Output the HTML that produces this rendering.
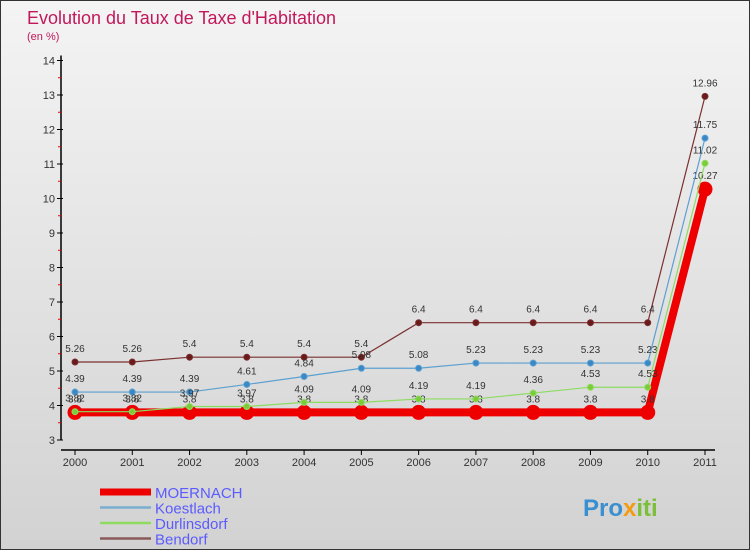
<!DOCTYPE html>
<html><head><meta charset="utf-8"><style>
body{margin:0}
#c{width:750px;height:550px;position:relative;font-family:"Liberation Sans","DejaVu Sans",sans-serif}
</style></head><body>
<div id="c">
<svg id="s" width="750" height="550" xmlns="http://www.w3.org/2000/svg" font-family="Liberation Sans, DejaVu Sans, sans-serif">
<defs><linearGradient id="bg" x1="0" y1="0" x2="0" y2="1"><stop offset="0" stop-color="#f4f4f4"/><stop offset="1" stop-color="#d2d2d2"/></linearGradient></defs>
<rect x="0.5" y="0.5" width="749" height="549" fill="url(#bg)" stroke="#333"/>
<text x="27" y="24" font-size="18" fill="#c2185b">Evolution du Taux de Taxe d'Habitation</text>
<text x="27" y="40" font-size="11" fill="#c2185b">(en %)</text>
<g id="axes"></g><g id="series"></g><g id="legend"></g>
<text x="583" y="516" font-size="24" font-weight="bold" fill="#3a8fd0">Pro<tspan fill="#f39c12">x</tspan><tspan fill="#7cbf3a">iti</tspan></text>
</svg>
</div>
<script>
const years=["2000","2001","2002","2003","2004","2005","2006","2007","2008","2009","2010","2011"];
const yTicks=[3,4,5,6,7,8,9,10,11,12,13,14];
const moernach=[3.8,3.8,3.8,3.8,3.8,3.8,3.8,3.8,3.8,3.8,3.8,10.27];
const koestlach=[4.39,4.39,4.39,4.61,4.84,5.08,5.08,5.23,5.23,5.23,5.23,11.75];
const durlinsdorf=[3.82,3.82,3.97,3.97,4.09,4.09,4.19,4.19,4.36,4.53,4.53,11.02];
const bendorf=[5.26,5.26,5.4,5.4,5.4,5.4,6.4,6.4,6.4,6.4,6.4,12.96];
const NS="http://www.w3.org/2000/svg";
const X=i=>75+i*(630/11);
const Y=v=>440-(v-3)*34.5;
function mk(tag,attrs,parent,txt){const e=document.createElementNS(NS,tag);for(const k in attrs)e.setAttribute(k,attrs[k]);if(txt!==undefined)e.textContent=txt;parent.appendChild(e);return e;}
const ax=document.getElementById('axes');
let e=mk('line',{x1:61,y1:Y(14)-5,x2:61,y2:Y(3),stroke:'#000','stroke-width':1.5},ax);


e=mk('line',{x1:61,y1:450,x2:715,y2:450,stroke:'#000','stroke-width':1.5},ax);


yTicks.forEach(v=>{
 mk('line',{x1:57,y1:Y(v),x2:63,y2:Y(v),stroke:'#000'},ax);
 if(v<14) mk('line',{x1:58,y1:Y(v+0.5),x2:61,y2:Y(v+0.5),stroke:'#e00'},ax);
 const t=mk('text',{x:55,y:Y(v)+4,'text-anchor':'end','font-size':11,fill:'#333'},ax,String(v));
 
 
});
years.forEach((y,i)=>{
 mk('line',{x1:X(i),y1:450,x2:X(i),y2:455,stroke:'#000'},ax);
 const t=mk('text',{x:X(i),y:466,'text-anchor':'middle','font-size':11,fill:'#333'},ax,y);
 
 
});
const sg=document.getElementById('series');
function series(data,color,w,r,name,labels,dot){
 const g=mk('g',{},sg);
 
 
 const p=mk('polyline',{points:data.map((v,i)=>X(i)+','+Y(v)).join(' '),fill:'none',stroke:color,'stroke-width':w},g);
 
 
 data.forEach((v,i)=>{
  const c=mk('circle',{cx:X(i),cy:Y(v),r:r,fill:dot,stroke:color,'stroke-width':1},g);
  
  
  if(labels){const t=mk('text',{x:X(i),y:Y(v)-10,'text-anchor':'middle','font-size':10,fill:'#333'},g,String(v));
  
  }
 });
}
series(moernach,'#e00',8,7,'moernach',true,'#e00');
series(bendorf,'#7a3030',1.2,3,'bendorf',true,'#6a1a1a');
series(koestlach,'#5ba0d0',1.2,3,'koestlach',true,'#3a88c8');
series(durlinsdorf,'#8ddc60',1.2,3,'durlinsdorf',true,'#7ccc3a');
const lg=document.getElementById('legend');
const leg=[["MOERNACH","#e00",7],["Koestlach","#7aaed0",2.5],["Durlinsdorf","#8ddc60",2.5],["Bendorf","#8a5a5a",2.5]];
leg.forEach((l,i)=>{
 const y=492+i*15.5;
 const g=mk('g',{},lg);
 
 
 mk('line',{x1:100,y1:y,x2:151,y2:y,stroke:l[1],'stroke-width':l[2]},g);
 mk('text',{x:155,y:y+6,'font-size':15,fill:'#5b5bff'},g,l[0]);
});
</script>
</body></html>
